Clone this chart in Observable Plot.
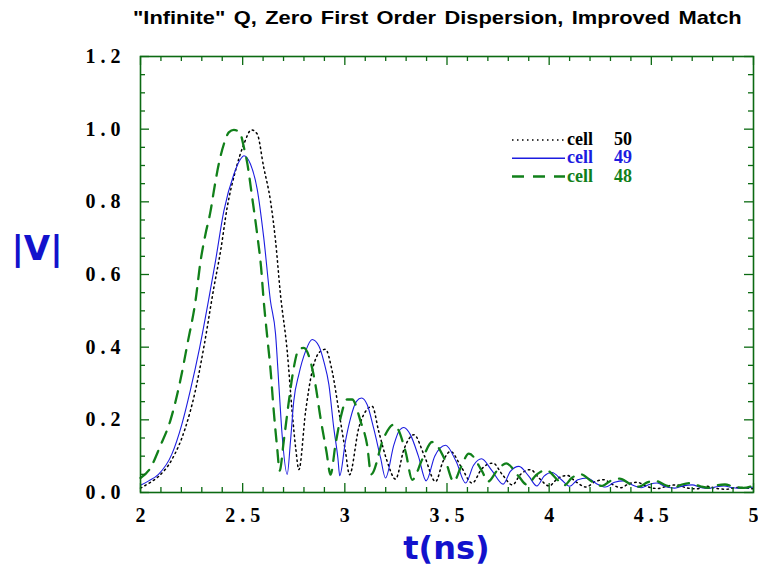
<!DOCTYPE html>
<html><head><meta charset="utf-8">
<script src="https://cdn.jsdelivr.net/npm/d3@7"></script>
<script src="https://cdn.jsdelivr.net/npm/@observablehq/plot@0.6"></script>
<style>
body{margin:0;background:#fff;}
#chart{position:relative;width:758px;height:569px;overflow:hidden;}
</style></head><body><div id="chart"></div>
<script>
// ---- data ----
const t50 = [2.000,2.040,2.088,2.153,2.219,2.268,2.310,2.359,2.392,2.424,2.465,2.506,2.543,2.571,2.603,2.636,2.661,2.685,2.718,2.742,2.760,2.775,2.808,2.840,2.881,2.905,2.938,2.971,3.003,3.023,3.068,3.101,3.134,3.166,3.207,3.248,3.290,3.338,3.390,3.444,3.480,3.517,3.570,3.623,3.670,3.725,3.770,3.820,3.860,3.909,3.950,4.000,4.040,4.088,4.130,4.180,4.225,4.268,4.310,4.350,4.390,4.430,4.480,4.530,4.580,4.626,4.670,4.720,4.773,4.820,4.870,4.920,5.000];
const v50 = [0.012,0.025,0.044,0.090,0.177,0.279,0.400,0.564,0.665,0.784,0.886,0.959,0.998,0.987,0.895,0.803,0.692,0.545,0.389,0.223,0.120,0.063,0.223,0.334,0.389,0.394,0.334,0.223,0.113,0.049,0.177,0.223,0.237,0.168,0.086,0.037,0.120,0.159,0.100,0.030,0.085,0.113,0.070,0.026,0.065,0.081,0.050,0.021,0.050,0.063,0.040,0.018,0.038,0.047,0.030,0.015,0.030,0.035,0.022,0.013,0.024,0.028,0.016,0.011,0.018,0.021,0.013,0.010,0.017,0.011,0.009,0.014,0.010];

const t49 = [2.000,2.040,2.088,2.153,2.202,2.243,2.290,2.334,2.367,2.408,2.457,2.490,2.506,2.538,2.571,2.603,2.636,2.661,2.677,2.693,2.718,2.734,2.750,2.775,2.808,2.840,2.873,2.897,2.922,2.946,2.966,2.975,3.003,3.028,3.057,3.082,3.109,3.141,3.175,3.199,3.240,3.264,3.289,3.320,3.360,3.398,3.440,3.493,3.545,3.591,3.630,3.669,3.720,3.775,3.810,3.852,3.900,3.940,3.975,4.014,4.060,4.100,4.140,4.186,4.230,4.275,4.320,4.365,4.410,4.450,4.490,4.528,4.570,4.615,4.660,4.700,4.740,4.780,4.820,4.855,4.900,4.940,5.000];
const v49 = [0.020,0.032,0.050,0.105,0.187,0.279,0.400,0.532,0.637,0.775,0.876,0.918,0.927,0.904,0.835,0.702,0.527,0.436,0.297,0.159,0.050,0.141,0.251,0.325,0.389,0.421,0.403,0.361,0.297,0.177,0.095,0.046,0.141,0.205,0.251,0.260,0.242,0.177,0.095,0.040,0.131,0.168,0.179,0.160,0.100,0.032,0.100,0.130,0.085,0.026,0.075,0.093,0.060,0.023,0.058,0.072,0.045,0.018,0.045,0.055,0.035,0.017,0.035,0.040,0.025,0.015,0.028,0.032,0.020,0.013,0.022,0.026,0.016,0.012,0.019,0.021,0.014,0.011,0.016,0.018,0.013,0.011,0.015];

const t48 = [2.000,2.047,2.096,2.145,2.194,2.230,2.269,2.294,2.318,2.343,2.359,2.383,2.411,2.432,2.457,2.486,2.506,2.522,2.547,2.571,2.590,2.603,2.620,2.636,2.652,2.669,2.681,2.701,2.726,2.750,2.775,2.799,2.832,2.856,2.881,2.910,2.930,2.954,2.979,3.011,3.036,3.077,3.109,3.129,3.190,3.240,3.297,3.330,3.378,3.427,3.493,3.533,3.566,3.607,3.672,3.700,3.745,3.790,3.850,3.890,3.940,3.985,4.040,4.075,4.110,4.155,4.210,4.260,4.300,4.345,4.400,4.440,4.480,4.520,4.570,4.610,4.650,4.690,4.740,4.780,4.820,4.860,4.910,4.950,5.000];
const v48 = [0.040,0.066,0.127,0.196,0.306,0.410,0.527,0.637,0.711,0.775,0.830,0.904,0.964,0.991,0.998,0.991,0.950,0.908,0.810,0.711,0.620,0.527,0.430,0.340,0.225,0.122,0.060,0.141,0.251,0.343,0.394,0.398,0.361,0.297,0.205,0.113,0.049,0.131,0.205,0.256,0.256,0.196,0.131,0.050,0.150,0.187,0.113,0.035,0.090,0.139,0.086,0.030,0.067,0.107,0.058,0.030,0.060,0.080,0.045,0.022,0.050,0.062,0.035,0.020,0.040,0.050,0.030,0.018,0.032,0.038,0.022,0.016,0.028,0.032,0.020,0.014,0.022,0.026,0.017,0.013,0.020,0.022,0.015,0.013,0.019];

const seriesNames = ["cell", "cell", "cell"];
const seriesNumbers = ["50", "49", "48"];
const xTickValues = [2, 2.5, 3, 3.5, 4, 4.5, 5];
const yTickValues = [0, 0.2, 0.4, 0.6, 0.8, 1.0, 1.2];
const xMinorStep = 0.1, yMinorStep = 0.05;
const titleText = '"Infinite" Q, Zero First Order Dispersion, Improved Match';
const xLabel = "t(ns)", yLabel = "|V|";

// ---- build ----
const rows = (ts, vs) => ts.map((t, i) => ({t, v: vs[i]}));
const d50 = rows(t50, v50), d49 = rows(t49, v49), d48 = rows(t48, v48);

const W = 758, H = 569, mL = 140, mR = 5, mT = 56, mB = 77;
const iw = W - mL - mR, ih = H - mT - mB;
const frameCol = "#0b6a12";
const cBlack = "#000000", cBlue = "#1c1ce0", cGreen = "#11801a";
const dash50 = "1.5,3.5", dash48 = "12,9";

const xMinor = d3.range(20, 51).map(i => +(i * xMinorStep).toFixed(2)).filter(v => !xTickValues.includes(v));
const yMinor = d3.range(0, 25).map(i => +(i * yMinorStep).toFixed(2)).filter(v => !yTickValues.some(y => Math.abs(y - v) < 1e-9));
const spaced = s => s.split("").join(" ");

const plot = Plot.plot({
  width: W, height: H,
  marginLeft: mL, marginRight: mR, marginTop: mT, marginBottom: mB,
  x: {domain: [2, 5], label: null},
  y: {domain: [0, 1.2], label: null},
  style: {background: "#fff", fontFamily: "'Liberation Serif', serif"},
  marks: [
    Plot.line(d50, {x: "t", y: "v", stroke: cBlack, strokeWidth: 1.5, strokeDasharray: dash50, curve: "monotone-x"}),
    Plot.line(d49, {x: "t", y: "v", stroke: cBlue, strokeWidth: 1.1, curve: "monotone-x"}),
    Plot.line(d48, {x: "t", y: "v", stroke: cGreen, strokeWidth: 2.3, strokeDasharray: dash48, curve: "monotone-x"}),
    // inward ticks, bottom & top
    Plot.tickX(xMinor, {x: d => d, stroke: frameCol, strokeWidth: 1.3, insetTop: ih - 5}),
    Plot.tickX(xTickValues, {x: d => d, stroke: frameCol, strokeWidth: 1.3, insetTop: ih - 9}),
    Plot.tickX(xMinor, {x: d => d, stroke: frameCol, strokeWidth: 1.3, insetBottom: ih - 5}),
    Plot.tickX(xTickValues, {x: d => d, stroke: frameCol, strokeWidth: 1.3, insetBottom: ih - 9}),
    // inward ticks, left & right
    Plot.tickY(yMinor, {y: d => d, stroke: frameCol, strokeWidth: 1.3, insetRight: iw - 5}),
    Plot.tickY(yTickValues, {y: d => d, stroke: frameCol, strokeWidth: 1.3, insetRight: iw - 9}),
    Plot.tickY(yMinor, {y: d => d, stroke: frameCol, strokeWidth: 1.3, insetLeft: iw - 5}),
    Plot.tickY(yTickValues, {y: d => d, stroke: frameCol, strokeWidth: 1.3, insetLeft: iw - 9}),
    Plot.frame({stroke: frameCol, strokeWidth: 1.6}),
    Plot.axisX(xTickValues, {tickSize: 0, tickPadding: 15, tickFormat: d => spaced(String(d)),
      fontSize: 20, fontWeight: "bold", fontFamily: "'Liberation Serif', serif", fill: "#000"}),
    Plot.axisY(yTickValues, {tickSize: 0, tickPadding: 20, tickFormat: d => spaced(d.toFixed(1)),
      fontSize: 20, fontWeight: "bold", fontFamily: "'Liberation Serif', serif", fill: "#000"})
  ]
});

document.getElementById("chart").appendChild(plot);
const svg = d3.select(plot);

// title (condensed to the reference's width)
const title = svg.append("text").attr("x", 0).attr("y", 0).attr("text-anchor", "start")
  .style("font", "bold 19px 'Liberation Sans', Arial, sans-serif").style("word-spacing", "2px")
  .attr("fill", "#000").text(titleText);
const tw = title.node().getComputedTextLength();
title.attr("transform", `translate(133,24) scale(${609 / tw},1)`);

// axis titles
svg.append("text").attr("x", 446.5).attr("y", 559).attr("text-anchor", "middle")
  .style("font", "bold 32px 'DejaVu Sans', sans-serif").attr("fill", "#1212cc").text(xLabel);
svg.append("text").attr("x", 37).attr("y", 260).attr("text-anchor", "middle")
  .style("font", "bold 34px 'DejaVu Sans', sans-serif").attr("fill", "#1212cc").text(yLabel);

// legend
const legCols = [cBlack, cBlue, cGreen], legDash = [dash50, null, dash48], legW = [1.5, 1.5, 2.5];
seriesNumbers.forEach((num, i) => {
  const y = 140 + i * 18.3;
  const ln = svg.append("line").attr("x1", 512).attr("x2", 565).attr("y1", y).attr("y2", y)
    .attr("stroke", legCols[i]).attr("stroke-width", legW[i]);
  if (legDash[i]) ln.attr("stroke-dasharray", legDash[i]);
  svg.append("text").attr("x", 567).attr("y", y + 5).attr("text-anchor", "start")
    .attr("fill", legCols[i]).style("font", "bold 18px 'Liberation Serif', serif").text(seriesNames[i]);
  svg.append("text").attr("x", 614).attr("y", y + 5).attr("text-anchor", "start")
    .attr("fill", legCols[i]).style("font", "bold 18px 'Liberation Serif', serif").text(num);
});
</script></body></html>
